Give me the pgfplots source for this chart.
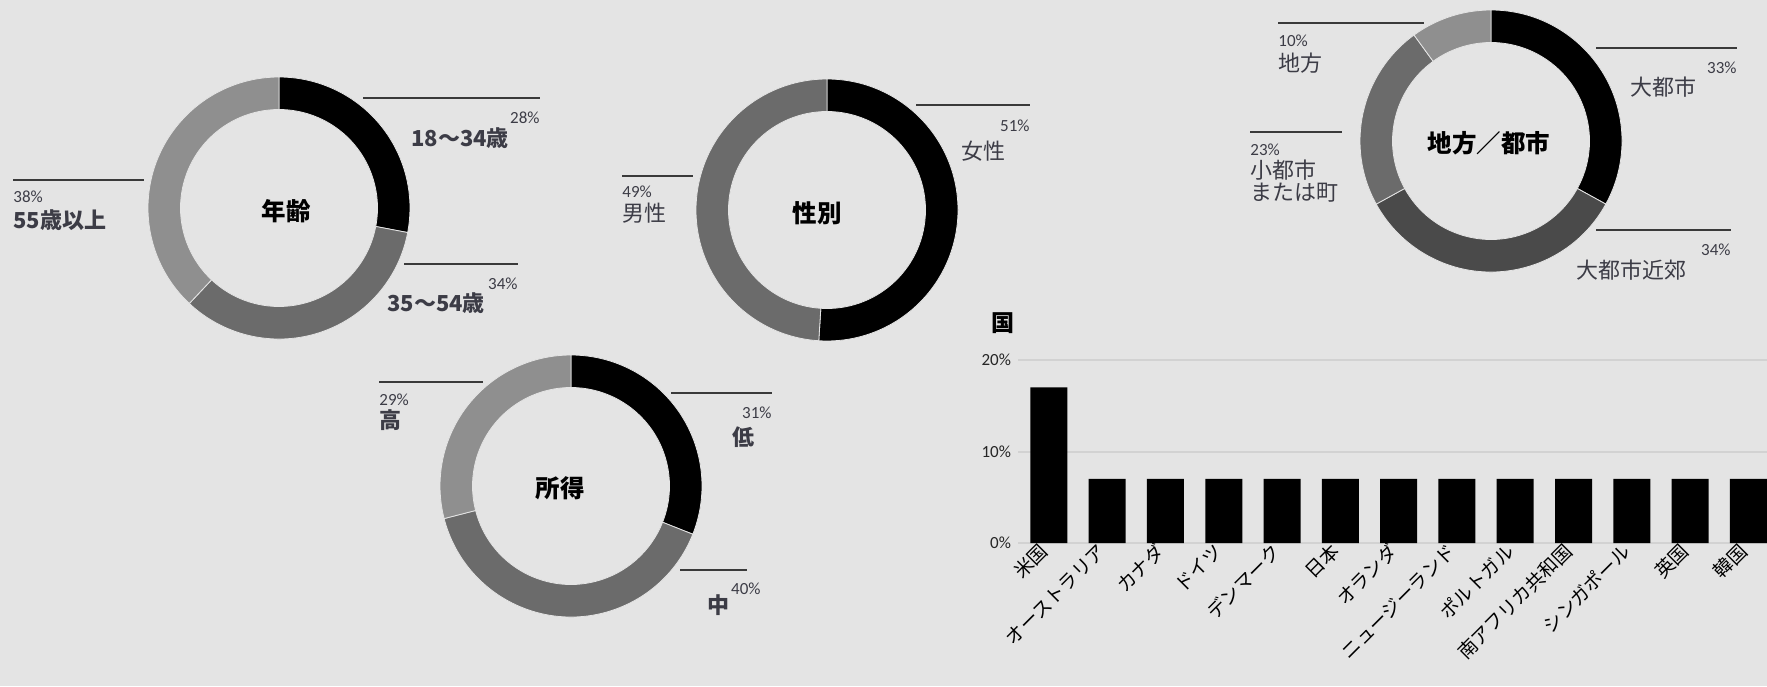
\documentclass[border=0pt]{standalone}
\usepackage{fontspec}
\setmainfont{Noto Sans CJK JP}
\newfontfamily\pcfont{Carlito}
\usepackage{pgfplots}
\pgfplotsset{compat=1.18}
\usetikzlibrary{calc}

\definecolor{bg}{HTML}{E4E4E4}
\definecolor{segB}{HTML}{6B6B6B}
\definecolor{segC}{HTML}{8F8F8F}
\definecolor{segD}{HTML}{4A4A4A}
\definecolor{lbl}{HTML}{3C3C46}
\definecolor{leadc}{HTML}{3A3A3A}
\definecolor{gridc}{HTML}{D2D2D2}

% 1 px of the reference = 0.5pt
\newcommand\Ro{65.5pt}
\newcommand\Ri{49.25pt}
% ring sector: centre x, centre y, from %, to % (clockwise from top), colour
\newcommand\seg[5]{%
  \filldraw[fill=#5,draw=bg,line width=0.4pt]
    ($(axis cs:#1,#2)+({90-3.6*#3}:\Ro)$)
    arc[start angle={90-3.6*#3}, end angle={90-3.6*#4}, radius=\Ro]
    -- ($(axis cs:#1,#2)+({90-3.6*#4}:\Ri)$)
    arc[start angle={90-3.6*#4}, end angle={90-3.6*#3}, radius=\Ri] -- cycle;}
\newcommand\leader[3]{\draw[leadc,line width=0.75pt] (axis cs:#1,#3) -- (axis cs:#2,#3);}
\newcommand\pct[4]{\node[anchor=#3,inner sep=0pt,text=lbl,font=\pcfont\fontsize{8.5}{9}\selectfont] at (axis cs:#1,#2) {#4};}
\newcommand\lab[3]{\node[anchor=west,inner sep=0pt,text=lbl,font=\fontsize{11}{12}\selectfont] at (axis cs:#1,#2) {#3};}
\newcommand\blab[3]{\node[anchor=west,inner sep=0pt,text=lbl,font=\fontsize{11}{12}\selectfont\bfseries] at (axis cs:#1,#2) {#3};}
\newcommand\ctr[3]{\node[inner sep=0pt,font=\fontsize{12.25}{13}\selectfont\bfseries] at (axis cs:#1,#2) {#3};}

\begin{document}
\begin{tikzpicture}
\fill[bg] (0,0) rectangle (883.5pt,343pt);
\useasboundingbox (0,0) rectangle (883.5pt,343pt);

\begin{axis}[at={(0,0)}, anchor=south west, scale only axis,
  width=883.5pt, height=343pt,
  xmin=0, xmax=1767, ymin=0, ymax=686, y dir=reverse,
  hide axis, clip=false]

% 年齢: 28 / 34 / 38
\seg{279}{208}{0}{28}{black}
\seg{279}{208}{28}{62}{segB}
\seg{279}{208}{62}{100}{segC}
\ctr{286}{211}{年齢}
\leader{363}{540}{98}  \pct{540}{118}{east}{28\%} \blab{411}{138}{18〜34歳}
\leader{404}{518}{264} \pct{518}{284}{east}{34\%} \blab{387}{303}{35〜54歳}
\leader{13}{144}{180}  \pct{13}{197}{west}{38\%}  \blab{13}{220}{55歳以上}

% 性別: 51 / 49
\seg{827}{210}{0}{51}{black}
\seg{827}{210}{51}{100}{segB}
\ctr{817}{213}{性別}
\leader{916}{1030}{105} \pct{1030}{126}{east}{51\%} \lab{961}{151}{女性}
\leader{622}{693}{176}  \pct{622}{192}{west}{49\%}  \lab{622}{213}{男性}

% 所得: 31 / 40 / 29
\seg{571}{486}{0}{31}{black}
\seg{571}{486}{31}{71}{segB}
\seg{571}{486}{71}{100}{segC}
\ctr{560}{488}{所得}
\leader{671}{772}{393} \pct{772}{413}{east}{31\%} \blab{732}{437}{低}
\leader{680}{747}{570} \pct{761}{589}{east}{40\%} \blab{707}{605}{中}
\leader{379}{483}{382} \pct{379}{400}{west}{29\%}  \blab{379}{420}{高}

% 地方／都市: 33 / 34 / 23 / 10
\seg{1491}{141}{0}{33}{black}
\seg{1491}{141}{33}{67}{segD}
\seg{1491}{141}{67}{90}{segB}
\seg{1491}{141}{90}{100}{segC}
\ctr{1489}{143}{地方／都市}
\leader{1596}{1737}{48}  \pct{1737}{68}{east}{33\%}  \lab{1630}{87}{大都市}
\leader{1596}{1731}{230} \pct{1731}{250}{east}{34\%} \lab{1576}{270}{大都市近郊}
\leader{1278}{1424}{23}  \pct{1278}{41}{west}{10\%}  \lab{1278}{63}{地方}
\leader{1250}{1342}{132} \pct{1250}{150}{west}{23\%} \lab{1250}{170}{小都市}
\lab{1250}{193}{または町}

\node[inner sep=0pt,font=\fontsize{11.5}{12}\selectfont\bfseries] at (axis cs:1003,323) {国};
\end{axis}

\begin{axis}[at={(509pt,71.5pt)}, anchor=south west, scale only axis,
  width=374.5pt, height=91.5pt,
  ybar, bar width=18.5pt,
  xmin=-0.53, xmax=12.32, ymin=0, ymax=20,
  ytick={0,10,20}, yticklabels={0\%,10\%,20\%},
  xtick={0,...,12},
  xticklabels={米国,オーストラリア,カナダ,ドイツ,デンマーク,日本,オランダ,ニュージーランド,ポルトガル,南アフリカ共和国,シンガポール,英国,韓国},
  ymajorgrids, grid style={gridc,line width=1pt},
  axis line style={draw=none}, major tick length=0pt,
  yticklabel style={font=\pcfont\fontsize{8.5}{9}\selectfont,text=black!85},
  xticklabel style={rotate=45,anchor=east,font=\fontsize{9.5}{10}\selectfont},
]
\addplot[fill=black,draw=none] coordinates {
  (0,17) (1,7) (2,7) (3,7) (4,7) (5,7) (6,7) (7,7) (8,7) (9,7) (10,7) (11,7) (12,7)};
\end{axis}
\end{tikzpicture}
\end{document}
